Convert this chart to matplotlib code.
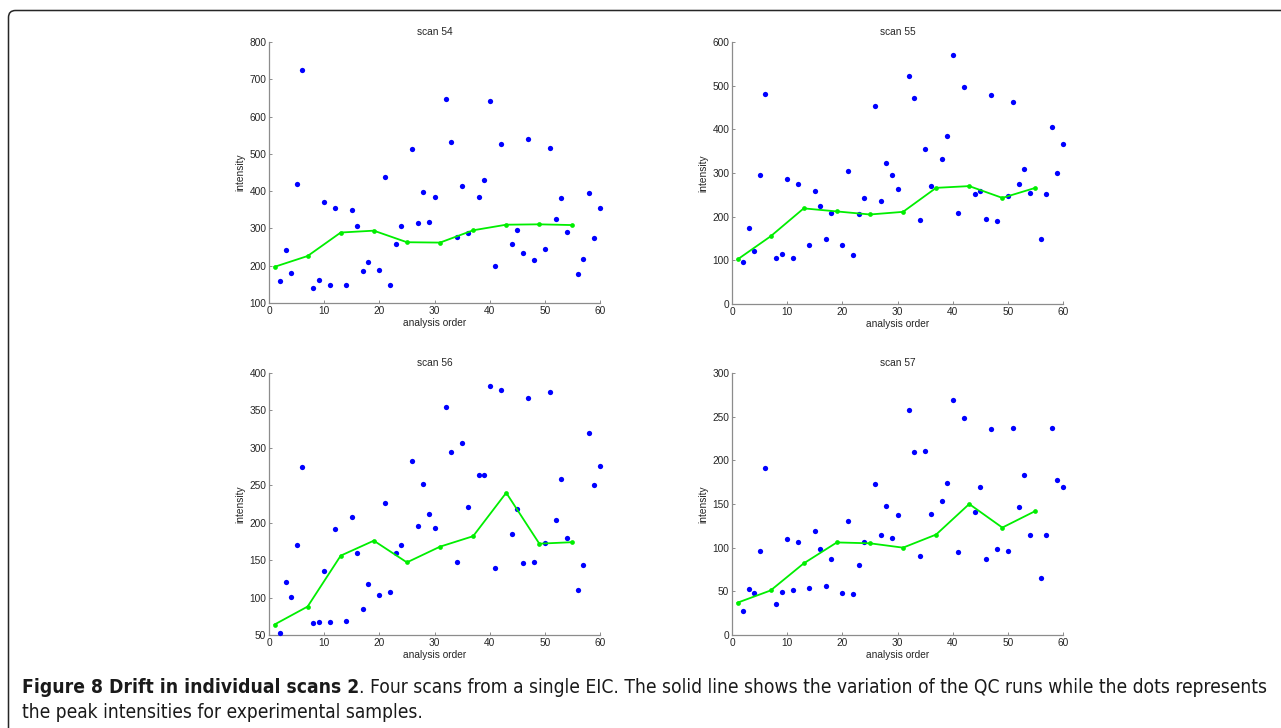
import matplotlib
matplotlib.use("Agg")
from matplotlib import pyplot as plt
from matplotlib.patches import FancyBboxPatch
from matplotlib.transforms import IdentityTransform

# analysis order of the QC injections, everything else is a sample
qc_order = [1, 7, 13, 19, 25, 31, 37, 43, 49, 55]
sample_order = [i for i in range(1, 61) if i not in qc_order]

scan_names = ["scan 54", "scan 55", "scan 56", "scan 57"]

scan54_samples = [158, 241, 181, 420, 726, 140, 163, 371, 147, 354,
                  148, 350, 306, 187, 209, 189, 439, 147, 259, 306,
                  512, 314, 398, 316, 385, 646, 531, 277, 415, 289,
                  384, 429, 643, 200, 526, 257, 296, 235, 540, 214,
                  246, 516, 324, 381, 291, 177, 218, 394, 274, 354]
scan54_qc = [197, 226, 289, 294, 263, 262, 295, 310, 311, 309]

scan55_samples = [96, 174, 121, 295, 482, 106, 115, 287, 105, 274,
                  135, 259, 224, 148, 209, 136, 304, 112, 207, 242,
                  453, 236, 324, 296, 264, 522, 471, 193, 356, 271,
                  332, 385, 570, 208, 497, 252, 258, 195, 479, 190,
                  247, 462, 274, 310, 254, 150, 252, 406, 300, 366]
scan55_qc = [102, 155, 219, 212, 205, 211, 266, 270, 243, 266]

scan56_samples = [53, 121, 101, 170, 274, 66, 67, 135, 67, 191,
                  69, 207, 159, 85, 118, 104, 226, 107, 160, 170,
                  282, 195, 252, 211, 193, 355, 294, 148, 307, 221,
                  264, 264, 382, 140, 377, 185, 218, 146, 367, 148,
                  173, 375, 204, 259, 179, 110, 143, 320, 250, 276]
scan56_qc = [64, 88, 156, 176, 147, 168, 182, 240, 172, 174]

scan57_samples = [27, 53, 48, 96, 191, 36, 49, 110, 52, 106,
                  54, 119, 99, 56, 87, 48, 130, 47, 80, 106,
                  173, 114, 148, 111, 137, 258, 210, 91, 211, 139,
                  154, 174, 269, 95, 248, 141, 169, 87, 236, 98,
                  96, 237, 147, 183, 115, 65, 115, 237, 177, 170]
scan57_qc = [37, 51, 82, 106, 105, 100, 115, 150, 123, 142]

y_ticks = [range(100, 801, 100), range(0, 601, 100),
           range(50, 401, 50), range(0, 301, 50)]

caption_bold = "Figure 8 Drift in individual scans 2"
caption_rest = (". Four scans from a single EIC. The solid line shows the variation "
                "of the QC runs while the dots represents")
caption_line2 = "the peak intensities for experimental samples."

W, H = 1281, 728
fig = plt.figure(figsize=(W / 100, H / 100), dpi=100)
plt.rcParams['font.family'] = ['Liberation Sans', 'DejaVu Sans']

# axes boxes in pixels: left, top, right, bottom
boxes = [(269, 42, 600, 303), (732, 42, 1063, 304),
         (269, 373, 600, 635), (732, 373, 1063, 635)]

samples = [scan54_samples, scan55_samples, scan56_samples, scan57_samples]
qcs = [scan54_qc, scan55_qc, scan56_qc, scan57_qc]

for box, name, s, q, yt in zip(boxes, scan_names, samples, qcs, y_ticks):
    l, t, r, b = box
    ax = fig.add_axes([l / W, 1 - b / H, (r - l) / W, (b - t) / H])
    ax.plot(sample_order, s, 'o', color='#0000ff', markersize=3.8,
            markeredgewidth=0, clip_on=False, zorder=3)
    ax.plot(qc_order, q, '-o', color='#00ee00', lw=1.3, markersize=3.4,
            markeredgewidth=0, clip_on=False, zorder=4)
    ax.set_xlim(0, 60)
    ax.set_ylim(yt[0], yt[-1])
    ax.set_xticks(range(0, 61, 10))
    ax.set_yticks(list(yt))
    for side in ('top', 'right'):
        ax.spines[side].set_visible(False)
    for side in ('left', 'bottom'):
        ax.spines[side].set_color('#8c8c8c')
        ax.spines[side].set_linewidth(0.9)
    ax.tick_params(direction='in', length=2.5, width=0.7, color='#8c8c8c',
                   labelsize=7.3, labelcolor='#262626', pad=2)
    ax.set_title(name, fontsize=7.3, color='#262626', pad=5)
    ax.set_xlabel("analysis order", fontsize=7.3, color='#262626', labelpad=1.5)
    ax.set_ylabel("intensity", fontsize=7.3, color='#262626', labelpad=3)

# rounded frame, only left and top edges are visible
frame = FancyBboxPatch((8.5, -30), 1320, 717.5 + 30,
                       boxstyle="round,pad=0,rounding_size=7",
                       transform=IdentityTransform(), fill=False,
                       edgecolor='#262626', lw=1.1, clip_on=False)
fig.add_artist(frame)

# caption, condensed face if there is one
cap_font = ['DejaVu Sans']
cap_kw = dict(family=cap_font, fontstretch='condensed', color='#1a1a1a',
              va='baseline')
size = 13
x0 = 22
renderer = fig.canvas.get_renderer()
t1 = fig.text(x0 / W, 35 / H, caption_bold, fontsize=size, fontweight='bold',
              **cap_kw)
bb = t1.get_window_extent(renderer)
t2 = fig.text(bb.x1 / W, 35 / H, caption_rest, fontsize=size, **cap_kw)
bb2 = t2.get_window_extent(renderer)
# squeeze/stretch so the first line ends where the reference does
scale = (1268 - x0) / (bb2.x1 - x0)
size = size * scale
t1.set_fontsize(size)
bb = t1.get_window_extent(renderer)
t2.set_fontsize(size)
t2.set_x(bb.x1 / W)
fig.text(x0 / W, 10 / H, caption_line2, fontsize=size, **cap_kw)

fig.savefig("out.png", dpi=100)
